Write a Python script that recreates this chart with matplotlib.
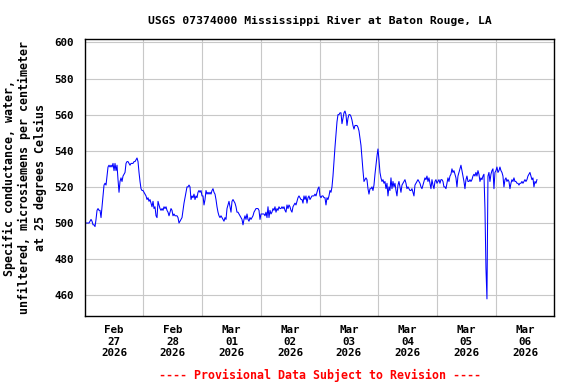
import matplotlib
matplotlib.use("Agg")
import matplotlib.pyplot as plt
import pandas as pd

# Text on the chart
title = "USGS 07374000 Mississippi River at Baton Rouge, LA"
ylabel = "Specific conductance, water,\nunfiltered, microsiemens per centimeter\nat 25 degrees Celsius"
note = "---- Provisional Data Subject to Revision ----"

# Time span of the readings (regular interval)
first_reading = "2026-02-27 00:10"
last_reading = "2026-03-06 16:52"

# Days on the x axis and y ticks
days = ["2026-02-27", "2026-02-28", "2026-03-01", "2026-03-02",
        "2026-03-03", "2026-03-04", "2026-03-05", "2026-03-06"]
yticks = [460, 480, 500, 520, 540, 560, 580, 600]

# Specific conductance, uS/cm at 25 C
cond_feb27 = [500, 500, 500, 500, 500, 501, 502, 501, 499, 499,
              498, 502, 507, 508, 507, 507, 503, 509, 515, 521,
              522, 521, 526, 531, 532, 531, 532, 531, 533, 529,
              533, 529, 532, 524, 517, 523, 525, 523, 526, 527,
              528, 533, 534, 534, 533, 532, 533, 533, 533, 534,
              534, 535, 536, 534, 528, 523, 519, 518, 518, 517,
              516, 515, 513, 514, 512, 513, 511, 509, 512, 508,
              509, 504, 503, 512, 510, 508, 507, 508, 507, 509,
              508, 509, 507, 506, 504, 506, 508, 507, 504]
cond_feb28 = [505, 504, 504, 504, 503, 500, 501, 502, 503, 507,
              511, 514, 517, 520, 520, 521, 520, 513, 515, 514,
              516, 513, 515, 514, 517, 518, 517, 518, 515, 515,
              510, 513, 518, 516, 517, 516, 517, 516, 518, 519,
              517, 516, 513, 509, 506, 504, 503, 504, 503, 502,
              501, 503, 502, 508, 510, 512, 509, 506, 512, 513,
              512, 511, 509, 506, 506, 505, 504, 503, 502, 499,
              502, 504, 502, 505, 502, 501, 503, 502, 503, 504,
              506, 507, 508, 508, 508, 507, 502, 505, 505, 505]
cond_mar02 = [505, 504, 506, 503, 509, 503, 507, 505, 506, 508,
              507, 509, 506, 508, 507, 509, 508, 508, 509, 508,
              509, 507, 506, 510, 508, 510, 509, 507, 506, 509,
              510, 511, 510, 512, 514, 515, 514, 513, 513, 511,
              515, 513, 515, 511, 514, 515, 513, 514, 515, 515,
              515, 516, 515, 517, 519, 520, 515, 514, 515, 515,
              514, 514, 510, 514, 513, 515, 518, 517, 520, 526,
              534, 542, 549, 556, 560, 560, 561, 561, 555, 558,
              561, 562, 560, 554, 558, 560, 560, 559, 557, 554]
cond_mar03 = [552, 554, 554, 554, 553, 551, 547, 543, 536, 529,
              523, 524, 525, 524, 519, 516, 519, 519, 520, 518,
              521, 527, 532, 537, 541, 535, 528, 525, 523, 524,
              522, 523, 519, 522, 515, 520, 518, 525, 519, 523,
              520, 522, 518, 515, 521, 523, 520, 517, 521, 522,
              523, 524, 522, 519, 520, 519, 518, 518, 519, 517,
              515, 521, 522, 523, 524, 523, 522, 520, 519, 521,
              523, 525, 524, 526, 523, 525, 522, 519, 524, 521,
              519, 523, 524, 522, 523, 524, 522, 524, 524, 523]
cond_mar05 = [520, 520, 519, 522, 525, 523, 526, 527, 530, 528,
              529, 527, 525, 520, 526, 528, 530, 532, 529, 526,
              523, 519, 524, 526, 523, 523, 524, 523, 524, 526,
              527, 526, 528, 526, 529, 527, 523, 525, 524, 526,
              527, 508, 475, 458, 526, 528, 523, 527, 529, 530,
              519, 528, 529, 531, 528, 529, 531, 529, 528, 526,
              520, 524, 525, 523, 524, 523, 519, 522, 524, 523,
              525, 523, 523, 522, 522, 521, 522, 522, 523, 522,
              523, 524, 523, 524, 526, 527, 528, 526, 524, 525,
              520, 523, 522, 524]

conductance = cond_feb27 + cond_feb28 + cond_mar02 + cond_mar03 + cond_mar05
times = pd.date_range(first_reading, last_reading, periods=len(conductance))

plt.rcParams["font.family"] = "DejaVu Sans Mono"
plt.rcParams["font.weight"] = "bold"

fig = plt.figure(figsize=(5.76, 3.84), dpi=100)
ax = fig.add_axes([0.1469, 0.177, 0.8156, 0.7206])

# Data line
ax.plot(times, conductance, color="#0000ff", linewidth=0.75)

# Axis limits
ax.set_xlim(pd.Timestamp(days[0]), pd.Timestamp(days[-1]) + pd.Timedelta(days=1))
ax.set_ylim(448.5, 601.7)

# Day labels at noon, grid lines at midnight
day_ts = pd.to_datetime(days)
noon = day_ts + pd.Timedelta(hours=12)
ax.set_xticks(noon, [d.strftime("%b\n%d\n%Y") for d in day_ts])
ax.set_xticks(day_ts[1:], minor=True)
ax.set_yticks(yticks)

ax.tick_params(axis="x", which="both", length=0, pad=6.5, labelsize=7.8)
ax.tick_params(axis="y", length=0, pad=7.5, labelsize=7.8)

ax.grid(axis="x", which="minor", color="#c8c8c8", linewidth=0.8)
ax.grid(axis="y", which="major", color="#c8c8c8", linewidth=0.8)
ax.set_axisbelow(True)

for spine in ax.spines.values():
    spine.set_linewidth(1.0)
    spine.set_color("black")

# Titles and labels
ax.set_title(title, fontsize=8.2, fontweight="bold", pad=11)
ax.set_ylabel(ylabel, fontsize=8.4, fontweight="bold")
ax.yaxis.set_label_coords(-0.081, 0.5)
fig.text(0.5547, 0.0234, note, color="red", fontsize=8.4, fontweight="bold",
         ha="center", va="center")

plt.savefig("out.png", dpi=100)
